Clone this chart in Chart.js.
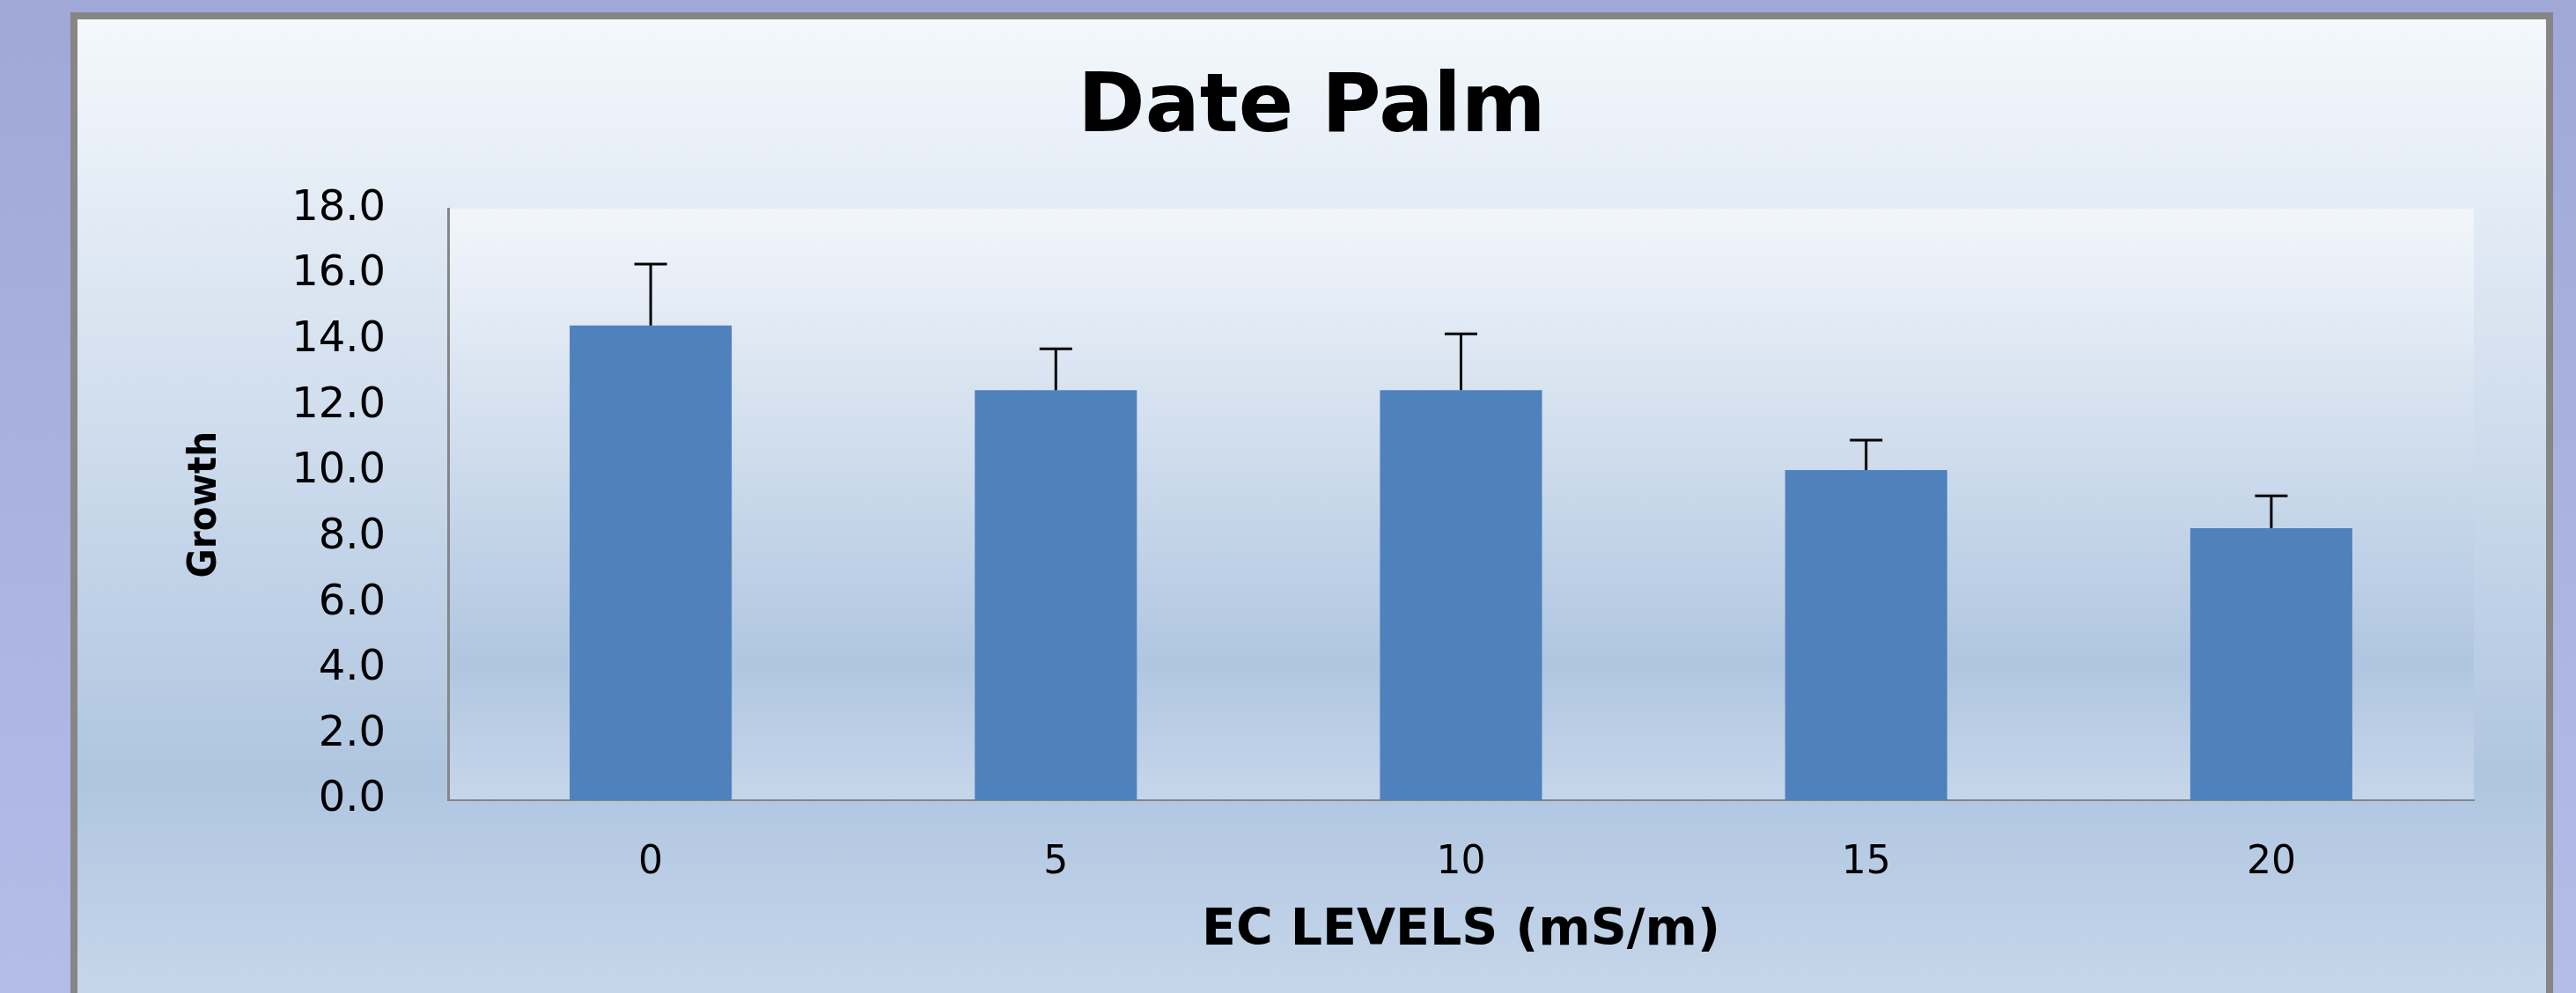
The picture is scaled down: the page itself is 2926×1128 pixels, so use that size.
<!DOCTYPE html>
<html>
<head>
<meta charset="utf-8">
<script src="https://cdn.jsdelivr.net/npm/chart.js@4"></script>
<style>
    html, body {
        margin: 0;
        padding: 0;
        width: 2926px;
        height: 1128px;
        overflow: hidden;
        background: linear-gradient(to bottom, #a0a8d8, #b4bce8);
    }
    #frame {
        position: absolute;
        left: 80px;
        top: 14px;
        width: 2804px;
        height: 1106px;
        border: 8px solid #868686;
        background: linear-gradient(to bottom, #f4f8fc 0%, #afc5e0 78%, #c6d6ea 100%);
    }
    #box {
        position: relative;
        width: 2804px;
        height: 1106px;
    }
</style>
</head>
<body>
<div id="frame">
    <div id="box"><canvas id="palmChart"></canvas></div>
</div>
<script>
// data
const ecLevels = ['0', '5', '10', '15', '20'];
const growth = [14.45, 12.48, 12.48, 10.05, 8.28];
const growthErr = [1.87, 1.26, 1.72, 0.91, 0.99];
const yTicks = [0, 2, 4, 6, 8, 10, 12, 14, 16, 18];

// plot area gets its own gradient, like the office chart
const plotBackground = {
    id: 'plotBackground',
    beforeDraw(chart) {
        const { ctx, chartArea } = chart;
        const g = ctx.createLinearGradient(0, chartArea.top, 0, chartArea.bottom);
        g.addColorStop(0, '#f2f6fb');
        g.addColorStop(0.77, '#b0c6e0');
        g.addColorStop(1, '#c6d6ea');
        ctx.save();
        ctx.fillStyle = g;
        ctx.fillRect(chartArea.left, chartArea.top, chartArea.right - chartArea.left, chartArea.bottom - chartArea.top);
        ctx.restore();
    }
};

// plus-only error bars
const errorBars = {
    id: 'errorBars',
    afterDatasetsDraw(chart) {
        const ctx = chart.ctx;
        const yScale = chart.scales.y;
        const bars = chart.getDatasetMeta(0).data;
        ctx.save();
        ctx.strokeStyle = '#000';
        ctx.lineWidth = 3;
        bars.forEach((bar, i) => {
            const top = yScale.getPixelForValue(growth[i] + growthErr[i]);
            ctx.beginPath();
            ctx.moveTo(bar.x, bar.y);
            ctx.lineTo(bar.x, top);
            ctx.moveTo(bar.x - 18.5, top);
            ctx.lineTo(bar.x + 18.5, top);
            ctx.stroke();
        });
        ctx.restore();
    }
};

const ctx = document.getElementById('palmChart').getContext('2d');
const chart = new Chart(ctx, {
    type: 'bar',
    data: {
        labels: ecLevels,
        datasets: [{
            label: 'Growth',
            data: growth,
            backgroundColor: '#4f81bd',
            borderWidth: 0,
            categoryPercentage: 1,
            barPercentage: 0.4
        }]
    },
    options: {
        responsive: true,
        maintainAspectRatio: false,
        animation: false,
        devicePixelRatio: 1,
        layout: {
            padding: 0
        },
        plugins: {
            legend: { display: false },
            tooltip: { enabled: false },
            title: {
                display: true,
                text: 'Date Palm',
                color: '#000',
                font: { family: "'DejaVu Sans', sans-serif", size: 92, weight: 'bold', lineHeight: 1.2 },
                padding: { top: 48, bottom: 57 }
            }
        },
        scales: {
            x: {
                grid: { display: false, drawTicks: false },
                border: { display: true, color: '#868686', width: 2 },
                ticks: {
                    color: '#000',
                    padding: 45,
                    font: { family: "'DejaVu Sans', sans-serif", size: 44, lineHeight: 1.2 }
                },
                title: {
                    display: true,
                    text: 'EC LEVELS (mS/m)',
                    color: '#000',
                    font: { family: "'DejaVu Sans', sans-serif", size: 57, weight: 'bold', lineHeight: 1.2 },
                    padding: { top: 0, bottom: 36 }
                },
                afterFit(scale) {
                    scale.height = 219;
                }
            },
            y: {
                min: 0,
                max: 18,
                grid: { display: false, drawTicks: false },
                border: { display: true, color: '#868686', width: 3 },
                afterBuildTicks(scale) {
                    scale.ticks = yTicks.map(v => ({ value: v }));
                },
                ticks: {
                    color: '#000',
                    padding: 71,
                    font: { family: "'DejaVu Sans', sans-serif", size: 48, lineHeight: 1.2 },
                    callback: value => value.toFixed(1)
                },
                title: {
                    display: true,
                    text: 'Growth',
                    color: '#000',
                    font: { family: "'DejaVu Sans Condensed', 'DejaVu Sans', sans-serif", size: 45, weight: 'bold', lineHeight: 1.2 },
                    padding: { top: 118, bottom: 0 }
                },
                afterFit(scale) {
                    scale.width = 421;
                }
            },
            // empty right axis, only keeps the space right of the plot
            yRight: {
                position: 'right',
                grid: { display: false, drawTicks: false },
                border: { display: false },
                ticks: { display: false },
                afterFit(scale) {
                    scale.width = 82;
                }
            }
        }
    },
    plugins: [plotBackground, errorBars]
});
</script>
</body>
</html>
